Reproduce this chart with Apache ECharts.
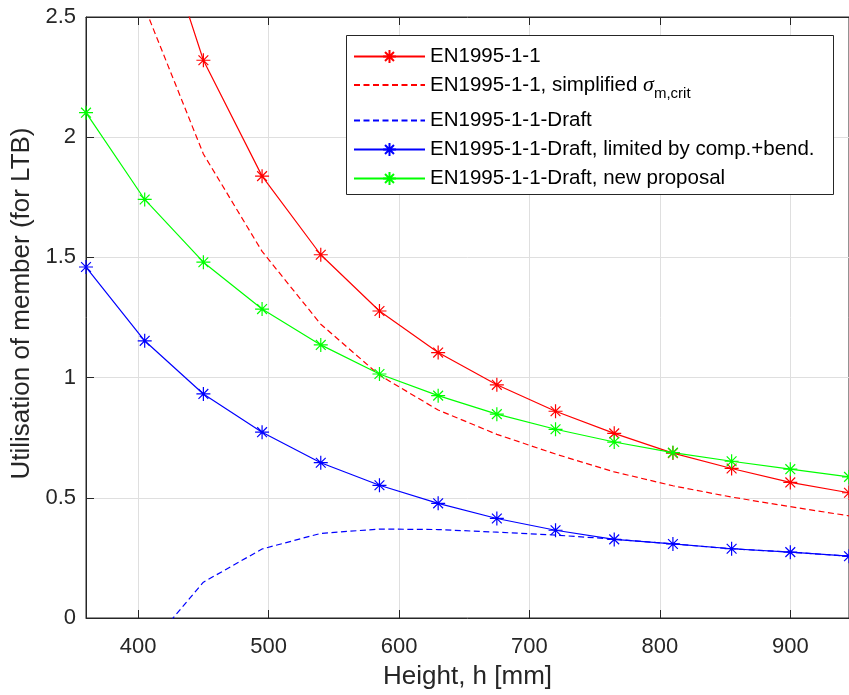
<!DOCTYPE html>
<html>
<head>
<meta charset="utf-8">
<script src="https://cdn.jsdelivr.net/npm/echarts@6/dist/echarts.min.js"></script>
<style>
  html, body { margin: 0; padding: 0; background: #ffffff; }
  #chart { width: 849px; height: 695px; }
</style>
</head>
<body>
<div id="chart"></div>
<script>
// Beam heights [mm] at which the utilisation was evaluated
const heights = [360, 405, 450, 495, 540, 585, 630, 675, 720, 765, 810, 855, 900, 945];

// Utilisation of member for lateral torsional buckling
const en1995 = [4.30, 3.07, 2.32, 1.838, 1.511, 1.277, 1.104, 0.970, 0.860, 0.768, 0.686, 0.622, 0.564, 0.521];
const en1995Simplified = [3.40, 2.54, 1.93, 1.525, 1.222, 1.010, 0.865, 0.764, 0.682, 0.608, 0.550, 0.503, 0.463, 0.425];
const draft = [-0.80, -0.14, 0.149, 0.287, 0.352, 0.370, 0.368, 0.357, 0.345, 0.328, 0.308, 0.288, 0.274, 0.257];
const draftLimited = [1.46, 1.153, 0.932, 0.773, 0.646, 0.552, 0.477, 0.414, 0.365, 0.327, 0.308, 0.288, 0.274, 0.257];
const draftProposal = [2.102, 1.741, 1.480, 1.285, 1.136, 1.015, 0.925, 0.848, 0.785, 0.732, 0.688, 0.652, 0.619, 0.587];

// Axis ticks
const xTicks = [400, 500, 600, 700, 800, 900];
const yTicks = [0, 0.5, 1, 1.5, 2, 2.5];

const seriesNames = [
  'EN1995-1-1',
  'EN1995-1-1, simplified',
  'EN1995-1-1-Draft',
  'EN1995-1-1-Draft, limited by comp.+bend.',
  'EN1995-1-1-Draft, new proposal'
];

const FONT = 'Liberation Sans, Arial, Helvetica, sans-serif';
const AXIS_COLOR = '#262626';
const GRID_COLOR = '#dfdfdf';
const STAR = 'path://M0,-10L0,10M-10,0L10,0M-7,-7L7,7M-7,7L7,-7';

const pairs = (ys) => heights.map((h, i) => [h, ys[i]]);

function lineSeries(name, ys, color, dashed, marker) {
  return {
    name: name,
    type: 'line',
    data: pairs(ys),
    clip: true,
    animation: false,
    symbol: STAR,
    showSymbol: marker,
    symbolSize: 14,
    // dashed curves carry no markers, so their symbol is left invisible
    itemStyle: marker
      ? { color: color, borderColor: color, borderWidth: 1.2 }
      : { color: 'rgba(0,0,0,0)', borderColor: 'rgba(0,0,0,0)', borderWidth: 0 },
    lineStyle: { color: color, width: 1.2, type: dashed ? [6, 3.5] : 'solid' },
    emphasis: { disabled: true },
    z: 2
  };
}

const chart = echarts.init(document.getElementById('chart'), null, { renderer: 'canvas' });

const legendBase = {
  orient: 'vertical',
  left: 353,
  padding: 0,
  itemWidth: 71,
  itemHeight: 16,
  itemGap: 0,
  selectedMode: false,
  z: 10,
  textStyle: { fontFamily: FONT, fontSize: 20.5, color: '#000000' }
};

const legendTops = [46, 74, 110, 139, 168];

const legends = seriesNames.map((name, i) => {
  const lg = Object.assign({}, legendBase, { data: [name], top: legendTops[i] });
  if (i === 1) {
    lg.formatter = (n) => n + ' {sig|σ}{sub|m,crit}';
    lg.textStyle = {
      fontFamily: FONT, fontSize: 20.5, color: '#000000',
      rich: {
        sig: { fontFamily: 'Liberation Serif, DejaVu Serif, serif', fontStyle: 'italic', fontSize: 22, color: '#000000' },
        sub: { fontFamily: FONT, fontSize: 15, color: '#000000', padding: [18, 0, 0, 0] }
      }
    };
  }
  return lg;
});

const option = {
  backgroundColor: '#ffffff',
  animation: false,
  grid: {
    left: 86, top: 17, width: 767, height: 603,
    show: true, borderColor: AXIS_COLOR, borderWidth: 1, backgroundColor: 'transparent'
  },
  legend: legends,
  graphic: [{
    type: 'rect',
    z: 5,
    shape: { x: 346.5, y: 35.5, width: 487, height: 159 },
    style: { fill: '#ffffff', stroke: AXIS_COLOR, lineWidth: 1 }
  }],
  xAxis: [{
    type: 'value',
    min: heights[0],
    max: heights[heights.length - 1],
    position: 'bottom',
    name: 'Height, h [mm]',
    nameLocation: 'middle',
    nameGap: 46,
    nameTextStyle: { fontFamily: FONT, fontSize: 26, color: AXIS_COLOR },
    axisLine: { show: true, lineStyle: { color: AXIS_COLOR, width: 1 } },
    axisTick: { show: true, inside: true, length: 8, customValues: xTicks, lineStyle: { color: AXIS_COLOR } },
    axisLabel: { customValues: xTicks, margin: 18, fontFamily: FONT, fontSize: 22, color: AXIS_COLOR },
    splitLine: { show: true, lineStyle: { color: GRID_COLOR, width: 1 } }
  }, {
    type: 'value',
    min: heights[0],
    max: heights[heights.length - 1],
    position: 'top',
    axisLine: { show: true, lineStyle: { color: AXIS_COLOR, width: 1 } },
    axisTick: { show: true, inside: true, length: 8, customValues: xTicks, lineStyle: { color: AXIS_COLOR } },
    axisLabel: { show: false },
    splitLine: { show: false }
  }],
  yAxis: {
    type: 'value',
    min: yTicks[0],
    max: yTicks[yTicks.length - 1],
    interval: 0.5,
    name: 'Utilisation of member (for LTB)',
    nameLocation: 'middle',
    nameGap: 46,
    nameTextStyle: { fontFamily: FONT, fontSize: 26, color: AXIS_COLOR, padding: [0, 0, 0, 28] },
    axisLine: { show: true, lineStyle: { color: AXIS_COLOR, width: 1 } },
    axisTick: { show: true, inside: true, length: 8, lineStyle: { color: AXIS_COLOR } },
    axisLabel: { margin: 10, fontFamily: FONT, fontSize: 22, color: AXIS_COLOR },
    splitLine: { show: true, lineStyle: { color: GRID_COLOR, width: 1 } }
  },
  series: [
    lineSeries(seriesNames[0], en1995, '#ff0000', false, true),
    lineSeries(seriesNames[1], en1995Simplified, '#ff0000', true, false),
    lineSeries(seriesNames[2], draft, '#0000ff', true, false),
    lineSeries(seriesNames[3], draftLimited, '#0000ff', false, true),
    lineSeries(seriesNames[4], draftProposal, '#00ff00', false, true)
  ]
};

chart.setOption(option);
</script>
</body>
</html>
